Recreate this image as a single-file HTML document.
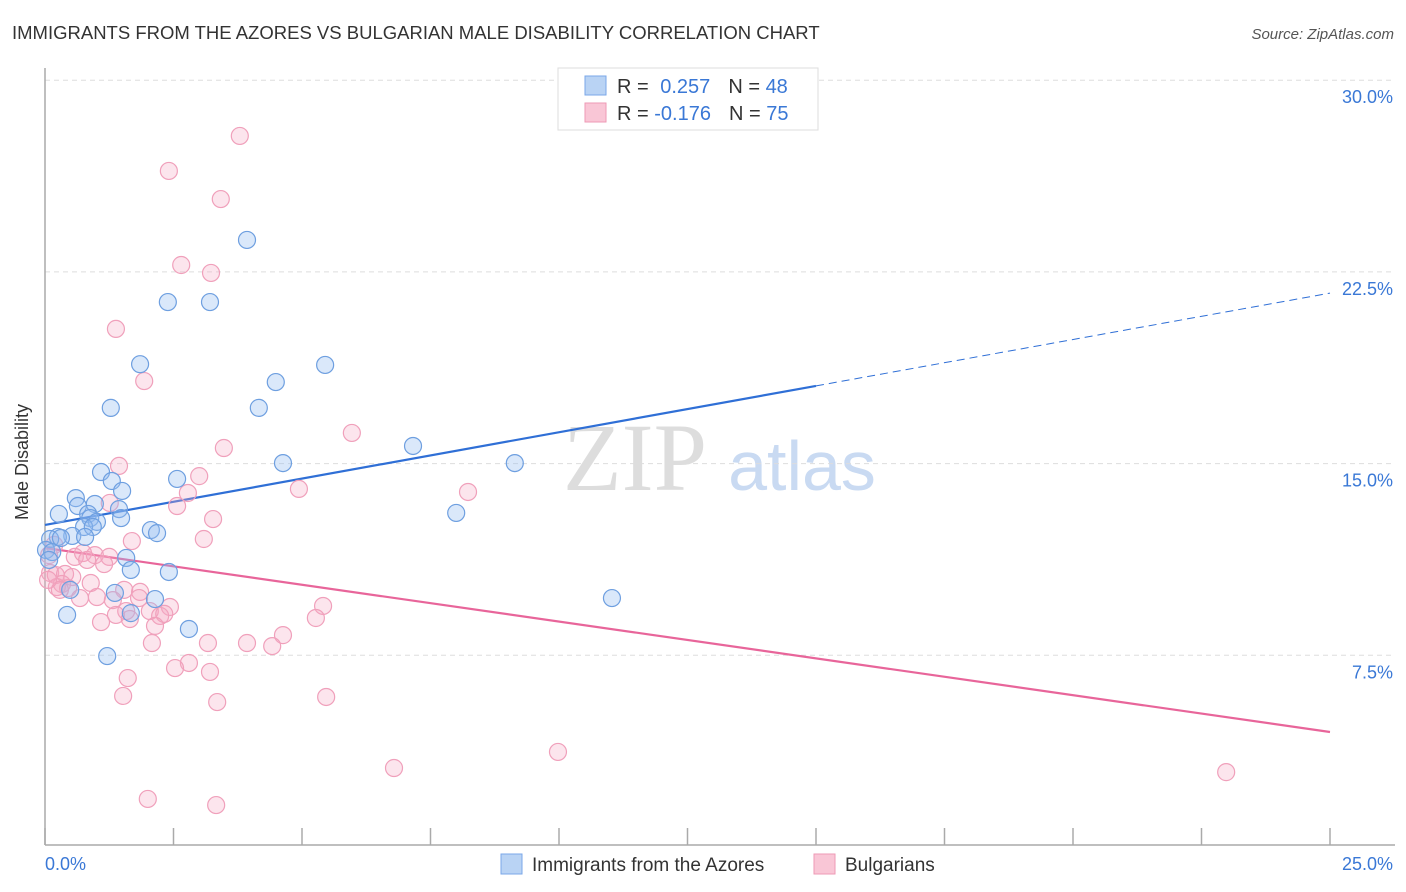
<!DOCTYPE html>
<html><head><meta charset="utf-8"><style>
body{margin:0;background:#fff;font-family:"Liberation Sans",sans-serif}
svg{display:block}
</style></head><body>
<svg id="chart" width="1406" height="892" xmlns="http://www.w3.org/2000/svg">
<text x="12" y="39" font-size="18.5" fill="#333">IMMIGRANTS FROM THE AZORES VS BULGARIAN MALE DISABILITY CORRELATION CHART</text>
<text x="1394" y="39" font-size="15" font-style="italic" fill="#555" text-anchor="end">Source: ZipAtlas.com</text>
<g>
<text x="635" y="490" font-size="96" font-family="Liberation Serif,serif" fill="#ddd" text-anchor="middle">ZIP</text>
<text x="802" y="490" font-size="70" fill="#c9daf2" text-anchor="middle">atlas</text>
</g>
<g id="grid"></g>
<line x1="45" y1="68" x2="45" y2="845" stroke="#aaa" stroke-width="1.5"/>
<line x1="45" y1="845" x2="1395" y2="845" stroke="#aaa" stroke-width="1.5"/>
<text x="22" y="456" font-size="18" fill="#333" text-anchor="middle" transform="rotate(-90 28 456)">Male Disability</text>
<g id="trend"></g>
<g id="pts"></g>
<g>
<rect x="558" y="68" width="260" height="62" fill="#fff" stroke="#ddd"/>
<rect x="585" y="76" width="21" height="19" fill="#b9d3f4" stroke="#7aa7e8"/>
<rect x="585" y="103" width="21" height="19" fill="#f9c6d6" stroke="#ee9ab5"/>
<text x="617" y="93" font-size="20" fill="#333">R = <tspan fill="#3a78d6" dx="6">0.257</tspan><tspan dx="18" fill="#333">N = </tspan><tspan fill="#3a78d6">48</tspan></text>
<text x="617" y="120" font-size="20" fill="#333">R = <tspan fill="#3a78d6">-0.176</tspan><tspan dx="18" fill="#333">N = </tspan><tspan fill="#3a78d6">75</tspan></text>
</g>
<g>
<rect x="501" y="854" width="21" height="20" fill="#b9d3f4" stroke="#7aa7e8"/>
<text x="532" y="871" font-size="19" fill="#333">Immigrants from the Azores</text>
<rect x="814" y="854" width="21" height="20" fill="#f9c6d6" stroke="#ee9ab5"/>
<text x="845" y="871" font-size="19" fill="#333">Bulgarians</text>
</g>
</svg>
<script>
const yTicks=[7.5,15,22.5,30];
const yTickLabels=["7.5%","15.0%","22.5%","30.0%"];
const xTicks=[0,2.5,5,7.5,10,12.5,15,17.5,20,22.5,25];
const xTickLabels=["0.0%","25.0%"];
const blueX=[2.39,3.21,3.93,1.85,5.45,4.49,1.28,4.16,7.16,9.14,4.63,1.09,2.57,1.30,1.50,0.60,0.97,0.64,0.27,0.84,0.88,1.44,1.01,1.48,0.76,0.93,2.06,2.18,0.53,0.25,0.78,0.10,0.02,0.14,0.08,1.58,1.67,2.41,0.49,1.36,2.14,11.03,1.67,0.43,2.80,1.21,8.00,0.31];
const blueY=[21.32,21.32,23.75,18.89,18.86,18.19,17.18,17.18,15.69,15.02,15.02,14.67,14.40,14.32,13.93,13.65,13.42,13.34,13.03,13.03,12.87,13.22,12.72,12.87,12.52,12.52,12.40,12.28,12.17,12.13,12.13,12.05,11.62,11.54,11.23,11.31,10.84,10.76,10.06,9.94,9.70,9.74,9.15,9.08,8.53,7.47,13.07,12.09];
const pinkX=[3.79,2.41,3.42,2.65,3.23,1.38,1.93,5.97,3.48,1.44,3.00,8.23,4.94,2.78,2.57,1.26,3.27,3.09,1.69,0.18,0.08,0.58,0.74,0.97,1.25,1.15,0.10,0.21,0.39,0.53,0.89,0.33,0.23,0.45,1.54,1.85,1.01,1.32,0.68,1.83,2.43,5.41,1.58,2.04,2.24,2.32,1.38,1.09,1.65,5.27,2.14,4.63,3.17,3.93,2.08,4.42,2.80,2.53,3.21,1.61,1.52,5.47,3.35,9.98,6.79,22.98,2.00,3.33,0.29,0.06,0.82];
const pinkY=[27.82,26.45,25.35,22.77,22.46,20.27,18.23,16.20,15.61,14.91,14.51,13.89,14.01,13.85,13.34,13.46,12.83,12.05,11.97,11.82,11.42,11.35,11.50,11.42,11.35,11.07,10.72,10.64,10.68,10.56,10.33,10.29,10.17,10.13,10.06,9.98,9.78,9.66,9.74,9.74,9.39,9.43,9.23,9.23,9.04,9.12,9.08,8.80,8.92,8.96,8.65,8.29,7.98,7.98,7.98,7.86,7.20,7.00,6.85,6.61,5.91,5.87,5.67,3.72,3.09,2.93,1.88,1.64,10.06,10.45,11.23];
const blueTrend=[12.60,18.04,21.67];
const blueTrendX=[0,15,25];
const pinkTrend=[11.70,4.50];
const pinkTrendX=[0,25];

const NS="http://www.w3.org/2000/svg";
const sx=v=>45+v*51.4;
const sy=v=>847-v*25.56;
function mk(tag,attrs,parent){const e=document.createElementNS(NS,tag);for(const k in attrs)e.setAttribute(k,attrs[k]);parent.appendChild(e);return e;}
const grid=document.getElementById('grid');
yTicks.forEach((t,i)=>{
  const l=mk('line',{x1:45,x2:1395,y1:sy(t),y2:sy(t),stroke:'#ddd','stroke-dasharray':'5,4'},grid);
  
  
  const tx=mk('text',{x:1393,y:sy(t)+23,'font-size':18,fill:'#3a78d6','text-anchor':'end'},grid);
  tx.textContent=yTickLabels[i];
  
  
});
xTicks.forEach(t=>{
  const l=mk('line',{x1:sx(t),x2:sx(t),y1:828,y2:845,stroke:'#aaa','stroke-width':1.5},grid);
  
  
});
[[0,45,'start'],[25,1393,'end']].forEach((d,i)=>{
  const tx=mk('text',{x:d[1],y:870,'font-size':18,fill:'#3a78d6','text-anchor':d[2]},grid);
  tx.textContent=xTickLabels[i];
  
  
});
const pts=document.getElementById('pts');
pinkX.forEach((x,i)=>{
  const c=mk('circle',{cx:sx(x),cy:sy(pinkY[i]),r:8.5,fill:'rgba(246,170,196,0.3)',stroke:'#f0a0bb','stroke-width':1.2},pts);
  
  
});
blueX.forEach((x,i)=>{
  const c=mk('circle',{cx:sx(x),cy:sy(blueY[i]),r:8.5,fill:'rgba(150,190,240,0.35)',stroke:'#6e9fe0','stroke-width':1.2},pts);
  
  
});
const tr=document.getElementById('trend');
const b1=mk('line',{x1:sx(blueTrendX[0]),y1:sy(blueTrend[0]),x2:sx(blueTrendX[1]),y2:sy(blueTrend[1]),stroke:'#2f6fd6','stroke-width':2.2},tr);


const b2=mk('line',{x1:sx(blueTrendX[1]),y1:sy(blueTrend[1]),x2:sx(blueTrendX[2]),y2:sy(blueTrend[2]),stroke:'#2f6fd6','stroke-width':1,'stroke-dasharray':'8,5'},tr);


const p1=mk('line',{x1:sx(pinkTrendX[0]),y1:sy(pinkTrend[0]),x2:sx(pinkTrendX[1]),y2:sy(pinkTrend[1]),stroke:'#e8659a','stroke-width':2.2},tr);


</script>
</body></html>
